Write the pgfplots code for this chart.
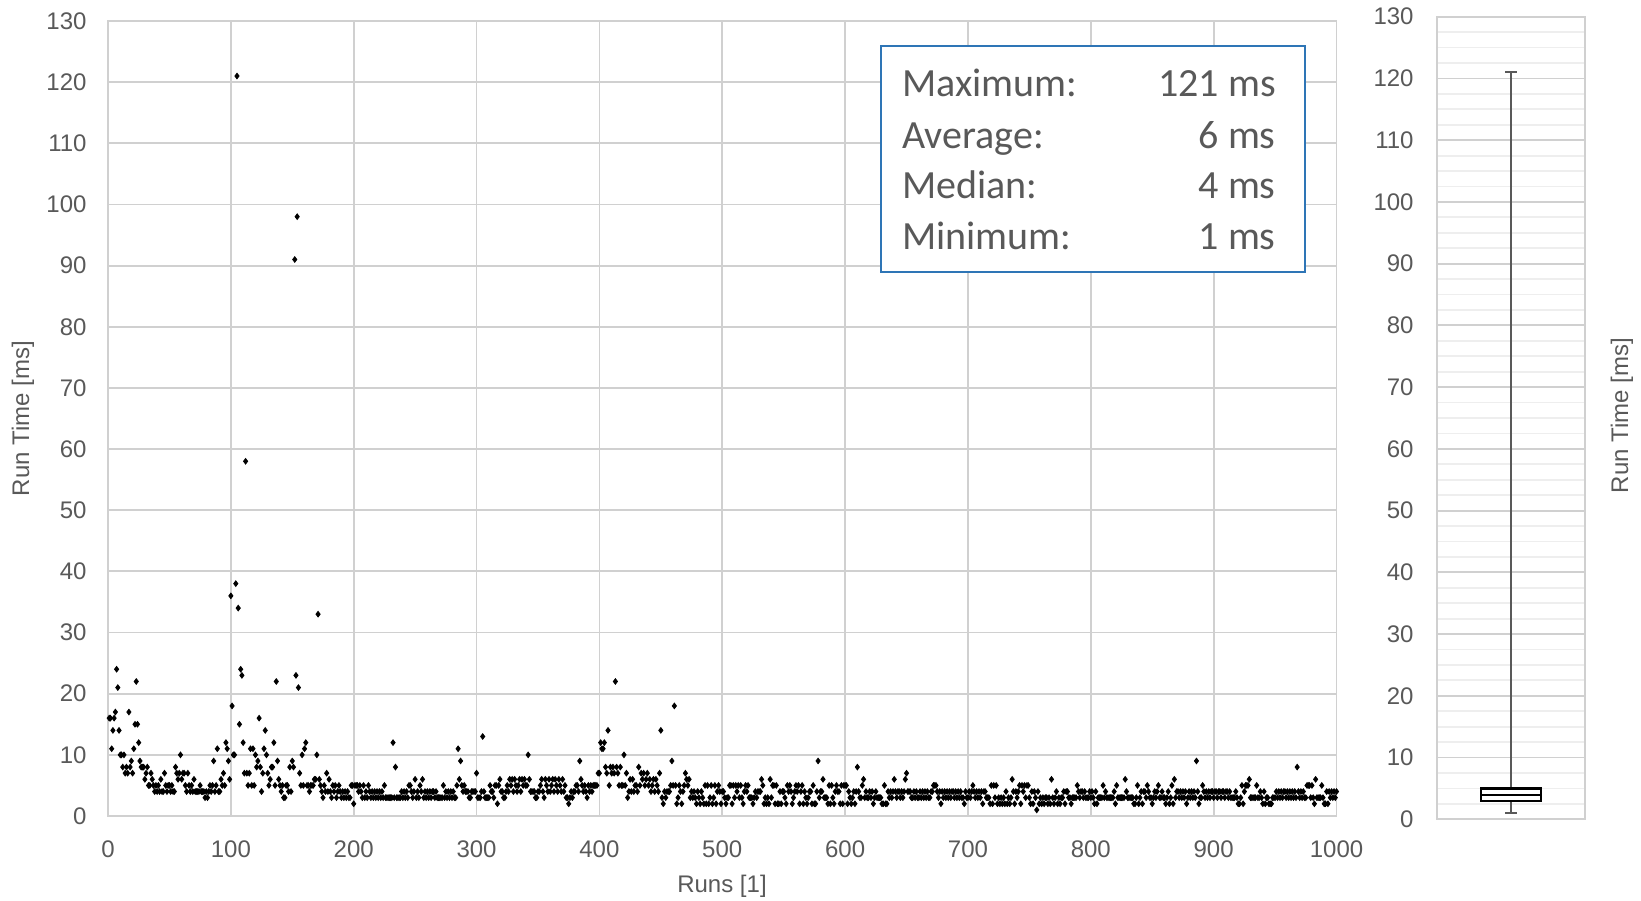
\documentclass[border=0pt]{standalone}
\usepackage{fontspec}
\setmainfont{Liberation Sans}
\newfontfamily\boxfont{Carlito}
\usepackage{pgfplots}
\usepackage{pgfplotstable}
\pgfplotsset{compat=1.18}
\usepgfplotslibrary{statistics}
\definecolor{txt}{HTML}{595959}
\definecolor{grd}{HTML}{D0D0D0}
\definecolor{mgrd}{HTML}{EEEEEE}
\definecolor{bluebox}{HTML}{2E75B6}

\pgfplotstableread{
c0 c1 c2 c3 c4 c5 c6 c7 c8 c9
16 16 11 14 16 17 24 21 14 10
10 8 10 7 8 7 17 8 9 7
11 15 22 15 12 9 8 8 8 6
7 8 5 5 7 6 5 4 5 4
5 4 6 4 4 7 5 4 5 5
4 5 4 4 8 7 6 7 10 6
7 7 5 4 7 5 4 5 4 6
4 4 4 4 5 4 4 4 3 4
3 4 5 4 5 9 4 5 11 4
4 6 5 7 5 12 11 9 6 36
18 10 10 38 121 34 15 24 23 12
7 58 7 5 7 11 5 11 5 10
8 9 16 8 4 7 11 14 10 7
5 6 8 8 12 5 22 9 6 5
4 5 3 3 5 5 4 8 4 9
8 91 23 98 21 7 5 10 5 11
12 5 5 4 5 5 5 6 6 10
33 6 5 4 3 5 4 7 4 6
4 3 5 4 5 3 4 5 4 3
4 3 4 3 4 3 3 5 5 2
5 5 5 4 5 4 3 5 3 4
3 5 4 3 4 3 4 3 4 3
4 3 4 3 5 3 3 3 3 3
3 12 3 8 3 3 3 3 4 3
4 3 4 3 5 5 4 3 4 6
3 4 3 5 4 6 3 4 3 4
3 4 3 4 4 3 4 3 3 3
3 3 5 3 4 3 4 3 4 3
4 3 3 5 11 6 9 5 4 5
4 4 4 3 3 4 4 4 4 7
3 3 3 4 13 4 3 3 3 3
5 4 4 3 5 5 2 5 6 4
4 3 3 4 5 4 6 5 6 4
6 5 4 5 6 4 6 5 6 5
5 10 6 4 4 4 4 3 3 4
4 5 6 4 3 6 5 4 6 4
5 6 4 6 5 4 6 5 4 6
4 5 3 3 2 3 4 3 4 4
5 5 4 9 6 5 4 5 4 3
5 4 5 4 5 5 5 5 7 7
12 11 11 12 8 7 14 5 8 7
8 7 22 8 7 5 8 5 5 10
5 7 3 4 6 4 6 4 5 5
4 8 5 7 6 7 5 6 7 5
6 4 5 6 4 6 5 4 7 14
3 2 4 3 4 4 4 5 9 5
18 5 2 3 5 4 2 4 5 7
6 5 6 3 4 3 4 3 2 4
3 2 4 3 2 5 2 5 2 3
5 2 3 5 2 4 5 4 2 4
4 3 2 3 3 5 5 2 5 3
5 4 5 3 5 3 2 4 5 4
5 3 3 3 2 3 4 3 4 4
4 6 5 2 3 2 3 2 6 3
5 5 2 5 2 2 4 2 4 4
3 2 5 4 5 4 2 3 4 5
4 5 2 4 5 2 4 3 2 3
4 4 2 5 2 2 4 9 3 4
4 6 3 3 3 2 5 2 5 3
2 4 5 4 4 2 5 2 5 5
5 2 4 3 2 3 4 2 4 8
4 3 3 5 6 3 4 3 3 4
3 4 2 3 4 3 3 3 3 2
2 5 2 2 4 3 4 3 4 6
4 3 4 4 3 4 3 4 6 7
4 4 4 3 3 4 3 4 3 3
4 3 4 3 4 3 4 3 3 4
4 5 5 5 4 3 4 2 4 3
4 3 4 3 4 3 4 4 3 4
3 4 3 4 3 3 2 4 3 3
4 3 4 5 4 3 4 3 4 3
4 2 4 4 3 3 3 2 5 2
5 3 5 2 3 2 3 2 3 2
4 2 3 2 3 6 4 2 4 3
4 5 2 5 4 5 3 5 5 3
2 4 2 4 3 1 4 2 3 2
3 2 3 3 2 3 2 6 3 2
3 4 2 3 2 3 3 4 2 4
4 3 3 2 3 3 3 3 5 4
3 4 4 3 4 3 3 3 4 3
4 3 2 4 2 3 3 3 3 5
3 4 3 3 3 3 3 3 4 2
5 3 3 3 3 3 3 6 4 3
3 3 3 3 2 2 3 5 2 3
4 2 4 4 3 5 4 3 3 2
3 4 3 4 5 3 3 4 3 3
2 3 4 2 3 5 2 6 3 4
4 3 4 3 4 3 4 2 3 4
3 4 3 4 3 9 4 2 3 3
5 4 3 4 3 4 3 4 4 3
4 4 3 4 4 3 4 4 3 4
4 3 4 3 3 3 3 4 3 2
2 3 5 2 4 5 5 5 6 3
3 3 3 3 5 3 3 4 3 2
4 2 3 3 2 2 2 3 3 3
4 3 4 3 4 3 4 4 3 4
3 4 3 4 3 4 3 8 4 3
4 3 4 3 3 5 5 5 3 5
3 2 6 3 3 3 3 5 3 2
2 4 2 4 3 4 3 4 3 4
}\runtimes

\begin{document}
\begin{tikzpicture}[x=1pt,y=1pt]
\path[use as bounding box] (0,0) rectangle (820.5,450);
\begin{axis}[
  at={(54pt,42pt)}, anchor=south west, scale only axis,
  width=614.25pt, height=397.5pt,
  xmin=0, xmax=1000, ymin=0, ymax=130,
  xtick distance=100, ytick distance=10,
  grid=major, major grid style={draw=grd, line width=0.9pt},
  axis line style={draw=grd, line width=0.9pt},
  tick style={draw=none},
  ticklabel style={font=\fontsize{12}{13}\selectfont, text=txt},
  yticklabel style={xshift=-7.2pt},
  xticklabel style={yshift=-9pt},
  /pgf/number format/assume math mode=true,
  /pgf/number format/1000 sep={},
  clip=false,
]
\pgfplotsinvokeforeach{0,...,9}{
  \addplot[only marks, mark=diamond*, mark size=1.4pt, black]
    table[x expr=\coordindex*10+#1+1, y=c#1] {\runtimes};
}
\end{axis}

\begin{axis}[
  at={(718.5pt,40.35pt)}, anchor=south west, scale only axis,
  width=74pt, height=401.3pt,
  xmin=0, xmax=2, ymin=0, ymax=130,
  xtick=\empty, ytick distance=10, minor y tick num=3,
  ymajorgrids, yminorgrids,
  major grid style={draw=grd, line width=0.9pt},
  minor grid style={draw=mgrd, line width=0.9pt},
  axis line style={draw=grd, line width=0.9pt},
  tick style={draw=none},
  ticklabel style={font=\fontsize{12}{13}\selectfont, text=txt},
  yticklabel style={xshift=-8.2pt},
  /pgf/number format/assume math mode=true,
]
\addplot[black, line width=1.1pt, fill=white,
  boxplot prepared={draw direction=y, draw position=1, lower whisker=1, lower quartile=3,
    median=4, upper quartile=5, upper whisker=121,
    box extend=0.81, whisker extend=0.16,
    every whisker/.style={draw=txt, line width=0.8pt}}]
  coordinates {};
\end{axis}

\node[rotate=90, font=\fontsize{12}{13}\selectfont, text=txt] at (11.5,240.7) {Run Time [ms]};
\node[font=\fontsize{12}{13}\selectfont, text=txt] at (361,7) {Runs [1]};
\node[rotate=90, font=\fontsize{12}{13}\selectfont, text=txt] at (811,242.25) {Run Time [ms]};

\draw[bluebox, fill=white, line width=0.7pt] (440.5,314) rectangle (652.5,427);
\begin{scope}[every node/.style={font=\boxfont\fontsize{20}{22}\selectfont, text=txt, inner sep=0pt}]
\node[anchor=base west] at (451,401.65) {Maximum:};
\node[anchor=base east] at (638,401.65) {121 ms};
\node[anchor=base west] at (451,375.85) {Average:};
\node[anchor=base east] at (638,375.85) {6 ms};
\node[anchor=base west] at (451,350.85) {Median:};
\node[anchor=base east] at (638,350.85) {4 ms};
\node[anchor=base west] at (451,325) {Minimum:};
\node[anchor=base east] at (638,325) {1 ms};
\end{scope}
\end{tikzpicture}
\end{document}
